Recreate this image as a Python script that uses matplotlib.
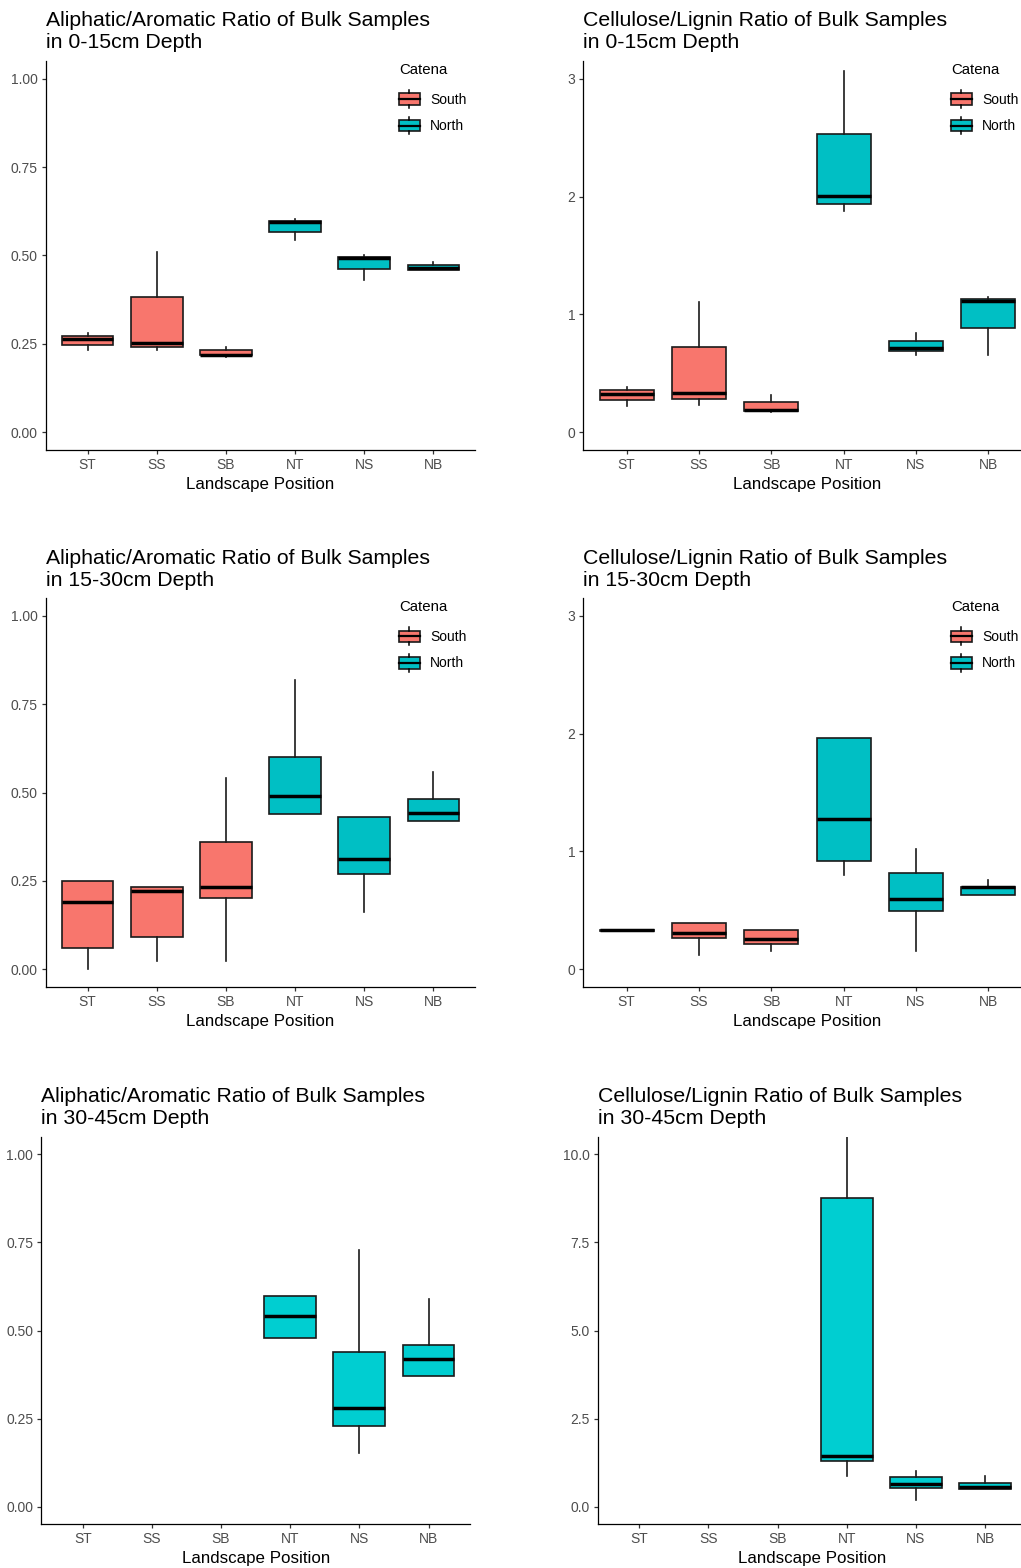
import matplotlib
matplotlib.use('Agg')
import matplotlib.pyplot as plt
from matplotlib.patches import Rectangle, Patch
from matplotlib.lines import Line2D
from matplotlib.legend_handler import HandlerBase

plt.rcParams['font.family'] = ['Liberation Sans', 'DejaVu Sans']

positions = ['ST', 'SS', 'SB', 'NT', 'NS', 'NB']
catena = ['South', 'South', 'South', 'North', 'North', 'North']

# Aliphatic/Aromatic, 0-15cm
aa1_lo = [0.233, 0.234, 0.214, 0.543, 0.432, 0.460]
aa1_q1 = [0.246, 0.242, 0.218, 0.567, 0.462, 0.460]
aa1_med = [0.263, 0.252, 0.220, 0.595, 0.493, 0.465]
aa1_q3 = [0.272, 0.382, 0.233, 0.598, 0.497, 0.473]
aa1_hi = [0.282, 0.510, 0.242, 0.602, 0.500, 0.482]

# Cellulose/Lignin, 0-15cm
cl1_lo = [0.226, 0.234, 0.175, 1.874, 0.655, 0.655]
cl1_q1 = [0.271, 0.282, 0.183, 1.936, 0.686, 0.881]
cl1_med = [0.325, 0.333, 0.192, 2.001, 0.714, 1.115]
cl1_q3 = [0.356, 0.723, 0.257, 2.532, 0.776, 1.132]
cl1_hi = [0.381, 1.109, 0.319, 3.065, 0.841, 1.152]

# Aliphatic/Aromatic, 15-30cm
aa2_lo = [0.000, 0.022, 0.022, 0.440, 0.161, 0.420]
aa2_q1 = [0.059, 0.090, 0.200, 0.440, 0.270, 0.420]
aa2_med = [0.189, 0.220, 0.232, 0.490, 0.311, 0.441]
aa2_q3 = [0.250, 0.231, 0.360, 0.600, 0.431, 0.481]
aa2_hi = [0.250, 0.231, 0.540, 0.820, 0.431, 0.559]

# Cellulose/Lignin, 15-30cm
cl2_lo = [0.325, 0.116, 0.155, 0.803, 0.155, 0.625]
cl2_q1 = [0.325, 0.260, 0.212, 0.922, 0.492, 0.625]
cl2_med = [0.330, 0.305, 0.257, 1.272, 0.591, 0.693]
cl2_q3 = [0.335, 0.393, 0.328, 1.962, 0.820, 0.698]
cl2_hi = [0.335, 0.393, 0.328, 1.962, 1.018, 0.755]

# Aliphatic/Aromatic, 30-45cm (no South samples)
aa3_lo = [None, None, None, 0.480, 0.151, 0.371]
aa3_q1 = [None, None, None, 0.480, 0.230, 0.371]
aa3_med = [None, None, None, 0.540, 0.280, 0.420]
aa3_q3 = [None, None, None, 0.599, 0.439, 0.460]
aa3_hi = [None, None, None, 0.599, 0.729, 0.589]

# Cellulose/Lignin, 30-45cm (no South samples)
cl3_lo = [None, None, None, 0.866, 0.188, 0.490]
cl3_q1 = [None, None, None, 1.309, 0.537, 0.490]
cl3_med = [None, None, None, 1.450, 0.631, 0.556]
cl3_q3 = [None, None, None, 8.766, 0.838, 0.678]
cl3_hi = [None, None, None, 11.200, 1.026, 0.866]

colors = {'South': '#F8766D', 'North': '#00BFC4'}
north_only = '#00CED1'

W, H = 1021, 1568
fig = plt.figure(figsize=(W / 100, H / 100), dpi=100)


def add_axes(left, right, top, bottom):
    return fig.add_axes([left / W, 1 - bottom / H, (right - left) / W, (bottom - top) / H])


class BoxHandler(HandlerBase):
    def create_artists(self, legend, orig_handle, xdescent, ydescent, width, height, fontsize, trans):
        x0, y0 = -xdescent, -ydescent
        cx = x0 + width / 2
        rect = Rectangle((x0, y0 + height * 0.18), width, height * 0.64,
                         facecolor=orig_handle.get_facecolor(), edgecolor='#1a1a1a',
                         lw=1.2, transform=trans)
        med = Line2D([x0, x0 + width], [y0 + height / 2] * 2, color='black', lw=1.6, transform=trans)
        w1 = Line2D([cx, cx], [y0, y0 + height * 0.18], color='black', lw=1.1, transform=trans)
        w2 = Line2D([cx, cx], [y0 + height * 0.82, y0 + height], color='black', lw=1.1, transform=trans)
        return [rect, w1, w2, med]


def panel(ax, title, lo, q1, med, q3, hi, ylim, yticks, yfmt, fills, legend):
    stats, pos, fc = [], [], []
    for i in range(len(positions)):
        if med[i] is None:
            continue
        stats.append(dict(whislo=lo[i], q1=q1[i], med=med[i], q3=q3[i], whishi=hi[i], fliers=[]))
        pos.append(i + 1)
        fc.append(fills[i])
    bp = ax.bxp(stats, positions=pos, widths=0.75, patch_artist=True, showfliers=False,
                showcaps=False,
                boxprops=dict(edgecolor='#1a1a1a', linewidth=1.2),
                whiskerprops=dict(color='#1a1a1a', linewidth=1.2),
                medianprops=dict(color='black', linewidth=2.5, solid_capstyle='butt'))
    for patch, c in zip(bp['boxes'], fc):
        patch.set_facecolor(c)
    ax.set_xlim(0.4, 6.6)
    ax.set_ylim(*ylim)
    ax.set_xticks(range(1, 7))
    ax.set_xticklabels(positions)
    ax.set_yticks(yticks)
    ax.set_yticklabels([yfmt.format(v) for v in yticks])
    for s in ['top', 'right']:
        ax.spines[s].set_visible(False)
    for s in ['left', 'bottom']:
        ax.spines[s].set_linewidth(0.9)
        ax.spines[s].set_color('black')
    ax.tick_params(length=3, width=0.9, color='#333333', labelcolor='#4D4D4D',
                   labelsize=10, pad=2.8)
    ax.set_xlabel('Landscape Position', fontsize=12.2, labelpad=3.5)
    ax.set_title(title, loc='left', fontsize=15.3, pad=9, linespacing=1.2)
    if legend:
        handles = [Patch(facecolor=colors['South']), Patch(facecolor=colors['North'])]
        leg = ax.legend(handles, ['South', 'North'], title='Catena',
                        handler_map={Patch: BoxHandler()},
                        loc='upper left', bbox_to_anchor=legend, frameon=False,
                        fontsize=10, title_fontsize=10.8, handlelength=1.5,
                        handleheight=1.6, labelspacing=0.62, handletextpad=0.75,
                        borderpad=0, borderaxespad=0, alignment='left')
        leg._legend_box.sep = 9.5


south_north = [colors[c] for c in catena]
all_north = [north_only] * 6
frac2 = [0.0, 0.25, 0.5, 0.75, 1.0]

ax1 = add_axes(46, 475, 61, 450)
panel(ax1, 'Aliphatic/Aromatic Ratio of Bulk Samples\nin 0-15cm Depth',
      aa1_lo, aa1_q1, aa1_med, aa1_q3, aa1_hi, (-0.05, 1.05), frac2, '{:.2f}',
      south_north, (0.823, 0.995))

ax2 = add_axes(583.3, 1031.7, 61, 450)
panel(ax2, 'Cellulose/Lignin Ratio of Bulk Samples\nin 0-15cm Depth',
      cl1_lo, cl1_q1, cl1_med, cl1_q3, cl1_hi, (-0.15, 3.15), [0, 1, 2, 3], '{:d}',
      south_north, (0.82, 0.995))

ax3 = add_axes(46, 475, 598.3, 986.7)
panel(ax3, 'Aliphatic/Aromatic Ratio of Bulk Samples\nin 15-30cm Depth',
      aa2_lo, aa2_q1, aa2_med, aa2_q3, aa2_hi, (-0.05, 1.05), frac2, '{:.2f}',
      south_north, (0.823, 0.995))

ax4 = add_axes(583.3, 1031.7, 598.3, 986.7)
panel(ax4, 'Cellulose/Lignin Ratio of Bulk Samples\nin 15-30cm Depth',
      cl2_lo, cl2_q1, cl2_med, cl2_q3, cl2_hi, (-0.15, 3.15), [0, 1, 2, 3], '{:d}',
      south_north, (0.82, 0.995))

ax5 = add_axes(41.3, 470, 1136.7, 1524.3)
panel(ax5, 'Aliphatic/Aromatic Ratio of Bulk Samples\nin 30-45cm Depth',
      aa3_lo, aa3_q1, aa3_med, aa3_q3, aa3_hi, (-0.05, 1.05), frac2, '{:.2f}',
      all_north, None)

ax6 = add_axes(597.7, 1026.6, 1136.7, 1524.3)
panel(ax6, 'Cellulose/Lignin Ratio of Bulk Samples\nin 30-45cm Depth',
      cl3_lo, cl3_q1, cl3_med, cl3_q3, cl3_hi, (-0.5, 10.5), [0.0, 2.5, 5.0, 7.5, 10.0], '{:.1f}',
      all_north, None)

fig.savefig('out.png', dpi=100, facecolor='white')
plt.close(fig)
